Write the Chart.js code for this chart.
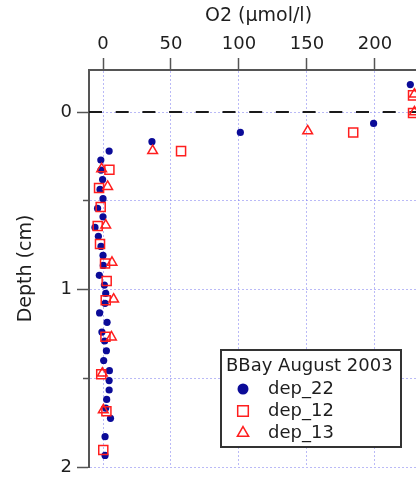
<!DOCTYPE html>
<html>
<head>
<meta charset="utf-8">
<script src="https://cdn.jsdelivr.net/npm/chart.js@4/dist/chart.umd.min.js"></script>
<style>
  html, body { margin: 0; padding: 0; background: #fff; overflow: hidden; }
  #wrap { width: 416px; height: 477px; overflow: hidden; }
  canvas { display: block; }
</style>
</head>
<body>
<div id="wrap"><canvas id="c" width="428" height="477"></canvas></div>
<script>
// ---- data ----
const xTitle = 'O2 (µmol/l)';
const yTitle = 'Depth (cm)';
const legendTitle = 'BBay August 2003';
const seriesNames = ['dep_22', 'dep_12', 'dep_13'];
const xTicks = [0, 50, 100, 150, 200];
const yTicks = [0, 0.5, 1, 1.5, 2];
const xRange = [-10.3, 239];
const yRange = [-0.237, 2];
const zeroDepth = 0;

const dep22_o2 = [226, 199, 101, 36, 4.5, -1.6, -1.5, -0.3, -2.2, 0, -4, 0, -5.9, -3.4, -1.5, 0, 0.2, -2.7, 1, 2, 1.5, -2.5, 3, -0.8, 1.2, 2.5, 0.5, 4.7, 4.5, 4.5, 2.7, 2, 5.5, 1.5, 1.5];
const dep22_depth = [-0.155, 0.064, 0.115, 0.167, 0.22, 0.27, 0.327, 0.38, 0.436, 0.488, 0.543, 0.59, 0.65, 0.70, 0.757, 0.808, 0.864, 0.92, 0.975, 1.022, 1.078, 1.132, 1.185, 1.24, 1.29, 1.345, 1.40, 1.457, 1.513, 1.566, 1.619, 1.668, 1.726, 1.829, 1.935];

const dep12_o2 = [228, 228, 184, 57.4, 4.7, -2.9, -1.7, -3.9, -2.2, 1.5, 2.7, 2, 1.8, -1.3, 2.5, 0.2];
const dep12_depth = [-0.094, 0.005, 0.115, 0.22, 0.325, 0.428, 0.535, 0.642, 0.744, 0.853, 0.952, 1.06, 1.266, 1.477, 1.686, 1.904];

const dep13_o2 = [229, 229, 150.5, 36.5, -1, 3.4, 2, 6.6, 7.8, 6.2, -0.5, 0.2];
const dep13_depth = [-0.1, 0.0, 0.107, 0.218, 0.32, 0.42, 0.637, 0.847, 1.055, 1.268, 1.472, 1.679];

// ---- build ----
const pts = (xs, ys) => xs.map((v, i) => ({ x: v, y: ys[i] }));
const FONT = '"DejaVu Sans", Verdana, sans-serif';
const NAVY = '#0b0b98';
const RED = '#ff1e1e';

const datasets = [
  { label: seriesNames[0], data: pts(dep22_o2, dep22_depth), pointStyle: 'circle', pointRadius: 3.6,
    backgroundColor: NAVY, borderColor: NAVY, borderWidth: 0, order: 3, legendRadius: 5.5 },
  { label: seriesNames[1], data: pts(dep12_o2, dep12_depth), pointStyle: 'rect', pointRadius: 6.4,
    backgroundColor: 'rgba(255,255,255,0)', borderColor: RED, borderWidth: 1.5, order: 2, legendRadius: 7.5 },
  { label: seriesNames[2], data: pts(dep13_o2, dep13_depth), pointStyle: 'triangle', pointRadius: 5.6,
    backgroundColor: 'rgba(255,255,255,0)', borderColor: RED, borderWidth: 1.5, order: 1, legendRadius: 6.5 },
  { type: 'line', label: 'zero', isRef: true, data: [{ x: xRange[0], y: zeroDepth }, { x: xRange[1], y: zeroDepth }],
    borderColor: '#1a1a1a', borderWidth: 2, borderDash: [13, 13.7], pointRadius: 0, order: 4, showLine: true }
];

const legendPlugin = {
  id: 'boxLegend',
  afterDraw(chart) {
    const ctx = chart.ctx;
    const L = 221, T = 350, R = 401, B = 447;
    ctx.save();
    ctx.fillStyle = '#fff';
    ctx.fillRect(L, T, R - L, B - T);
    ctx.strokeStyle = '#333';
    ctx.lineWidth = 2;
    ctx.strokeRect(L, T, R - L, B - T);
    ctx.font = '18px ' + FONT;
    ctx.fillStyle = '#1e1e1e';
    ctx.textBaseline = 'middle';
    ctx.textAlign = 'left';
    ctx.fillText(legendTitle, 226, 366);
    const rows = chart.data.datasets.filter(d => !d.isRef);
    rows.forEach((d, i) => {
      const y = 389 + i * 22;
      ctx.save();
      ctx.fillStyle = d.backgroundColor;
      ctx.strokeStyle = d.borderColor;
      ctx.lineWidth = d.borderWidth || 0;
      Chart.helpers.drawPoint(ctx, { pointStyle: d.pointStyle, radius: d.legendRadius, borderWidth: d.borderWidth, rotation: 0 }, 243, y);
      ctx.restore();
      ctx.fillStyle = '#1e1e1e';
      ctx.fillText(d.label, 268, y);
    });
    ctx.restore();
  }
};

const gridColor = 'rgba(130,130,240,0.55)';

new Chart(document.getElementById('c'), {
  type: 'scatter',
  data: { datasets },
  options: {
    responsive: false,
    animation: false,
    layout: { autoPadding: false, padding: { left: 0, top: 0, right: 0, bottom: 10 } },
    plugins: { legend: { display: false }, tooltip: { enabled: false } },
    scales: {
      x: {
        type: 'linear', position: 'top', min: xRange[0], max: xRange[1],
        afterBuildTicks: (s) => { s.ticks = xTicks.map(v => ({ value: v })); },
        afterFit: (s) => { s.height = 70; s.paddingLeft = 0; s.paddingRight = 0; },
        ticks: { font: { family: FONT, size: 18 }, color: '#1e1e1e', padding: 3, maxRotation: 0 },
        grid: { color: gridColor, lineWidth: 1, tickLength: 12, tickColor: '#555', tickWidth: 1.5 },
        border: { display: true, color: '#555', width: 2, dash: [2, 2] },
        title: { display: true, text: xTitle, font: { family: FONT, size: 19 }, color: '#1e1e1e', padding: { top: 5, bottom: 0 } }
      },
      y: {
        type: 'linear', position: 'left', reverse: true, min: yRange[0], max: yRange[1],
        afterBuildTicks: (s) => { s.ticks = yTicks.map(v => ({ value: v })); },
        afterFit: (s) => { s.width = 89; s.paddingTop = 0; s.paddingBottom = 0; },
        ticks: { font: { family: FONT, size: 18 }, color: '#1e1e1e', padding: 5,
          callback: (v) => Number.isInteger(v) ? String(v) : '' },
        grid: { color: gridColor, lineWidth: 1, tickLength: 12, tickColor: '#555', tickWidth: 1.5,
          tickBorderDash: (c) => (c.tick && !Number.isInteger(c.tick.value)) ? [6, 6] : [],
          tickBorderDashOffset: (c) => (c.tick && !Number.isInteger(c.tick.value)) ? 6 : 0 },
        border: { display: true, color: '#555', width: 2, dash: [2, 2] },
        title: { display: true, text: yTitle, font: { family: FONT, size: 19 }, color: '#1e1e1e', padding: { top: 15, bottom: 0 } }
      }
    }
  },
  plugins: [legendPlugin]
});
</script>
</body>
</html>
